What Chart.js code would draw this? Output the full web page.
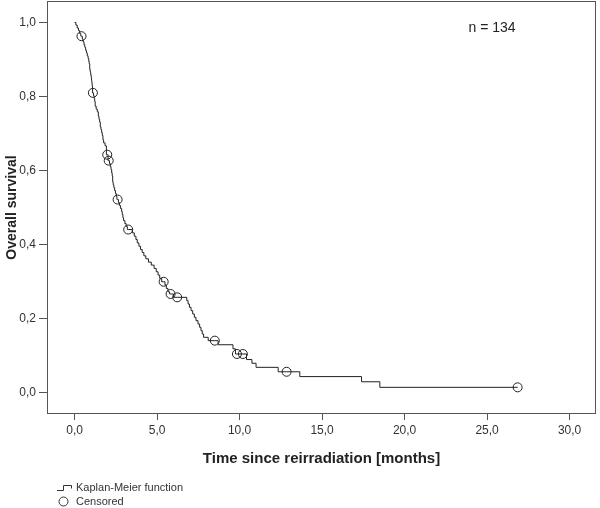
<!DOCTYPE html>
<html>
<head>
<meta charset="utf-8">
<script src="https://cdn.jsdelivr.net/npm/chart.js@4.4.0/dist/chart.umd.min.js"></script>
<style>
  html, body { margin: 0; padding: 0; background: #fff; }
  #wrap { width: 600px; height: 508px; }
</style>
</head>
<body>
<div id="wrap"><canvas id="km" width="600" height="508"></canvas></div>
<script>
// step points of the Kaplan-Meier curve (time in months, survival after the event)
const eventTimes = [
  0.08, 0.16, 0.24, 0.31, 0.38,
  0.47, 0.52, 0.57, 0.62, 0.67, 0.72, 0.77, 0.82, 0.86, 0.89, 0.92, 0.95, 0.98, 1.01, 1.03, 1.05, 1.07, 1.09,
  1.15, 1.19, 1.22, 1.25, 1.31, 1.38, 1.44, 1.48, 1.52, 1.56, 1.60, 1.64, 1.68, 1.72, 1.76, 1.85, 1.93,
  2.03, 2.12, 2.17, 2.21, 2.25, 2.28, 2.31, 2.34, 2.38, 2.43, 2.48, 2.53, 2.57,
  2.66, 2.72, 2.78, 2.85, 2.89, 2.93, 2.97, 3.05, 3.13, 3.20,
  3.50, 3.62, 3.72, 3.80, 3.90, 4.00, 4.10, 4.20, 4.32, 4.48, 4.65, 4.82, 4.95, 5.06, 5.16, 5.28,
  5.48, 5.56, 5.66, 5.76, 6.00,
  6.80, 6.88, 6.96, 7.06, 7.16, 7.26, 7.36, 7.48, 7.58, 7.66, 7.74, 7.82, 8.10,
  8.70, 9.60, 9.75, 10.42, 10.75, 11.00, 12.34, 13.65, 17.39, 18.50
];
const eventSurvival = [
  0.993, 0.985, 0.978, 0.970, 0.963,
  0.955, 0.948, 0.940, 0.933, 0.925, 0.918, 0.910, 0.903, 0.895, 0.888, 0.873, 0.866, 0.858, 0.851, 0.843, 0.836, 0.828, 0.810,
  0.802, 0.795, 0.787, 0.774, 0.766, 0.759, 0.747, 0.739, 0.731, 0.718, 0.711, 0.703, 0.695, 0.683, 0.675, 0.667, 0.643,
  0.627, 0.619, 0.611, 0.603, 0.594, 0.586, 0.570, 0.562, 0.554, 0.546, 0.538, 0.530, 0.522,
  0.514, 0.506, 0.498, 0.490, 0.482, 0.473, 0.465, 0.457, 0.449, 0.441,
  0.432, 0.423, 0.414, 0.405, 0.396, 0.387, 0.379, 0.370, 0.362, 0.353, 0.345, 0.336, 0.327, 0.318, 0.309, 0.300,
  0.291, 0.282, 0.273, 0.267, 0.258,
  0.249, 0.240, 0.231, 0.222, 0.213, 0.204, 0.195, 0.186, 0.177, 0.168, 0.159, 0.150, 0.141,
  0.130, 0.119, 0.105, 0.090, 0.080, 0.069, 0.057, 0.044, 0.030, 0.015
];
// censored observations
const censorTimes = [0.42, 1.11, 1.98, 2.07, 2.61, 3.25, 5.40, 5.82, 6.22, 8.50, 9.84, 10.20, 12.85, 26.85];
const censorSurvival = [0.963, 0.810, 0.643, 0.627, 0.522, 0.441, 0.300, 0.267, 0.258, 0.141, 0.105, 0.105, 0.057, 0.015];

const xTicks = [0, 5, 10, 15, 20, 25, 30];
const yTicks = [0, 0.2, 0.4, 0.6, 0.8, 1.0];
const sampleSize = 134;

const fmt = v => v.toFixed(1).replace('.', ',');
const FONT = "'Liberation Sans', Arial, sans-serif";
const INK = '#333';

// curve = start at 1 + events + censor points, in time order
const curve = [{ x: 0, y: 1 }]
  .concat(eventTimes.map((t, i) => ({ x: t, y: eventSurvival[i] })))
  .concat(censorTimes.map((t, i) => ({ x: t, y: censorSurvival[i] })))
  .sort((a, b) => a.x - b.x);

const censored = censorTimes.map((t, i) => ({ x: t, y: censorSurvival[i] }));

const decor = {
  id: 'decor',
  afterDraw(chart) {
    const { ctx, chartArea: a } = chart;
    ctx.save();
    // frame round the plot
    ctx.strokeStyle = '#555';
    ctx.lineWidth = 1;
    ctx.strokeRect(Math.round(a.left) + 0.5, Math.round(a.top) + 0.5,
      Math.round(a.right - a.left) - 1, Math.round(a.bottom - a.top) - 1);

    // sample size
    ctx.fillStyle = '#222';
    ctx.font = '14px ' + FONT;
    ctx.textAlign = 'center';
    ctx.textBaseline = 'middle';
    ctx.fillText('n = ' + sampleSize, 492, 28);

    // legend
    ctx.strokeStyle = '#333';
    ctx.lineWidth = 1;
    ctx.beginPath();
    ctx.moveTo(57, 490.5);
    ctx.lineTo(63.5, 490.5);
    ctx.lineTo(63.5, 485.5);
    ctx.lineTo(71.5, 485.5);
    ctx.lineTo(71.5, 488.5);
    ctx.stroke();
    ctx.beginPath();
    ctx.arc(63.5, 501.5, 4.5, 0, Math.PI * 2);
    ctx.stroke();
    ctx.font = '11px ' + FONT;
    ctx.textAlign = 'left';
    ctx.fillStyle = '#333';
    ctx.fillText('Kaplan-Meier function', 76, 488);
    ctx.fillText('Censored', 76, 502);
    ctx.restore();
  }
};

new Chart(document.getElementById('km'), {
  type: 'line',
  data: {
    datasets: [
      {
        label: 'Kaplan-Meier function',
        data: curve,
        stepped: true,
        borderColor: '#222',
        borderWidth: 1,
        pointRadius: 0,
        fill: false
      },
      {
        type: 'scatter',
        label: 'Censored',
        data: censored,
        showLine: false,
        pointStyle: 'circle',
        pointRadius: 4.5,
        borderColor: '#222',
        borderWidth: 1,
        backgroundColor: 'rgba(0,0,0,0)'
      }
    ]
  },
  options: {
    responsive: false,
    animation: false,
    devicePixelRatio: 1,
    layout: { autoPadding: false, padding: { top: 1, right: 4, bottom: 40, left: 0 } },
    plugins: { legend: { display: false }, tooltip: { enabled: false } },
    scales: {
      x: {
        type: 'linear',
        min: -1.67,
        max: 31.6,
        afterBuildTicks: s => { s.ticks = xTicks.map(v => ({ value: v })); },
        afterFit: s => { s.height = 54; s.paddingLeft = 0; s.paddingRight = 0; },
        ticks: {
          callback: v => fmt(v),
          font: { family: FONT, size: 12 },
          color: INK,
          padding: 3,
          maxRotation: 0,
          autoSkip: false
        },
        grid: { drawOnChartArea: false, tickLength: 6, color: '#555' },
        border: { display: false },
        title: {
          display: true,
          text: 'Time since reirradiation [months]',
          font: { family: FONT, size: 15, weight: 'bold' },
          color: '#222',
          padding: { top: 0, bottom: 0 }
        }
      },
      y: {
        type: 'linear',
        min: -0.057,
        max: 1.058,
        afterBuildTicks: s => { s.ticks = yTicks.map(v => ({ value: v })); },
        afterFit: s => { s.width = 47; s.paddingTop = 0; s.paddingBottom = 0; },
        ticks: {
          callback: v => fmt(v),
          font: { family: FONT, size: 12 },
          color: INK,
          padding: 3,
          autoSkip: false
        },
        grid: { drawOnChartArea: false, tickLength: 8, color: '#555' },
        border: { display: false },
        title: {
          display: true,
          text: 'Overall survival',
          font: { family: FONT, size: 14, weight: 'bold' },
          color: '#222',
          padding: { top: 4, bottom: 0 }
        }
      }
    }
  },
  plugins: [decor]
});
</script>
</body>
</html>
